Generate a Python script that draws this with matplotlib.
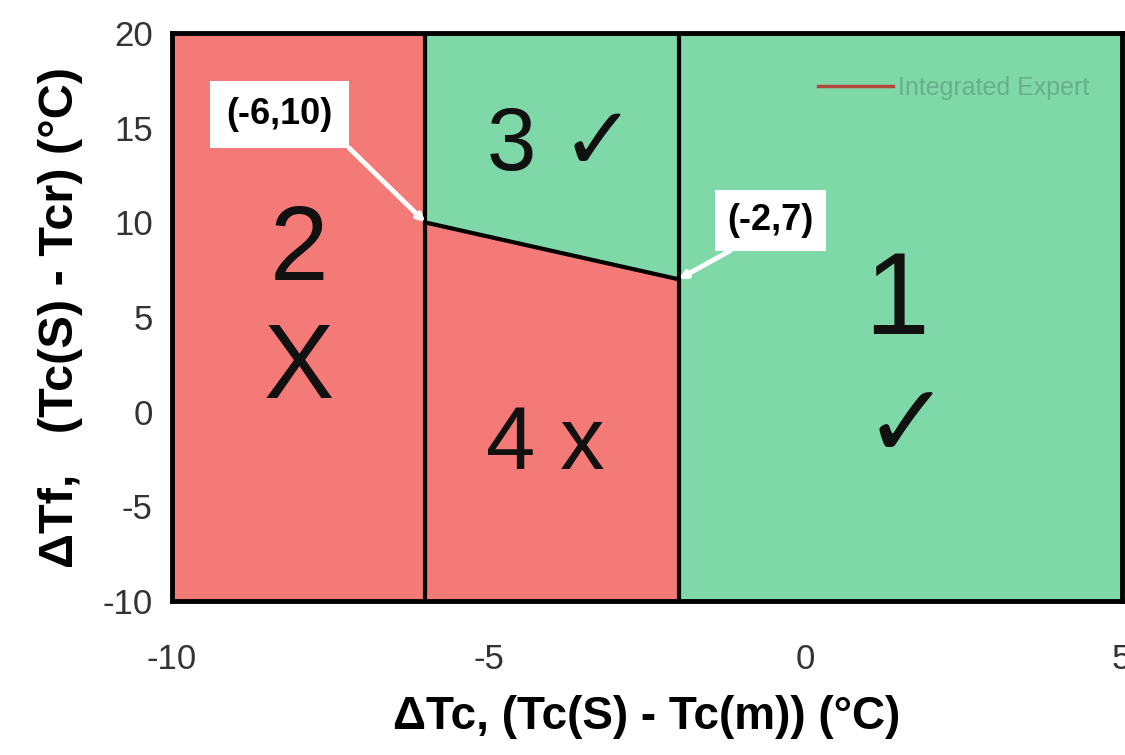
import numpy as np
import matplotlib.pyplot as plt
import matplotlib

matplotlib.rcParams['font.family'] = ['Liberation Sans', 'DejaVu Sans']
matplotlib.rcParams['axes.unicode_minus'] = False

# boundary points
x_range = [-10, 5]
y_range = [-10, 20]
corner_left = (-6, 10)
corner_right = (-2, 7)
xticks = [-10, -5, 0, 5]
yticks = [-10, -5, 0, 5, 10, 15, 20]

red = '#f47a77'
green = '#7ed8a8'

fig = plt.figure(figsize=(11.25, 7.55), dpi=100)
ax = fig.add_axes([0.153, 0.204, 0.844, 0.752])

x0, x1 = x_range
y0, y1 = y_range
xl, yl = corner_left
xr, yr = corner_right

# regions
ax.fill([x0, xl, xl, x0], [y0, y0, y1, y1], color=red, zorder=1)
ax.fill([xl, xr, xr, xl], [yl, yr, y1, y1], color=green, zorder=1)
ax.fill([xl, xr, xr, xl], [y0, y0, yr, yl], color=red, zorder=1)
ax.fill([xr, x1, x1, xr], [y0, y0, y1, y1], color=green, zorder=1)

# boundaries
ax.plot([xl, xl], [y0, y1], color='k', lw=3, zorder=2)
ax.plot([xr, xr], [y0, y1], color='k', lw=3, zorder=2)
ax.plot([xl, xr], [yl, yr], color='k', lw=3, zorder=2)

ax.plot([], [], color='#b5473a', lw=2.5, label='Integrated Expert')
leg = ax.legend(loc='upper right', frameon=False, fontsize=18,
                bbox_to_anchor=(0.99, 0.965), handlelength=3.0,
                handletextpad=0.2)
for t in leg.get_texts():
    t.set_color('#68b08b')

# region labels
big = dict(ha='center', va='center', color='#111111')
ax.text(-8.0, 8.4, '2', fontsize=76, **big)
ax.text(-8.0, 2.2, 'X', fontsize=76, **big)
ax.text(-3.85, 14.0, '3 \u2713', fontsize=64, **big)
ax.text(-4.1, -1.8, '4 x', fontsize=64, **big)
ax.text(1.45, 5.7, '1', fontsize=84, **big)
ax.text(1.6, -1.0, '\u2713', fontsize=74, **big)

# corner annotations
ax.annotate('(-6,10)', xy=corner_left, xytext=(-8.3, 15.7),
            ha='center', va='center', fontsize=26, fontweight='bold',
            bbox=dict(boxstyle='square,pad=0.45', fc='white', ec='none'),
            arrowprops=dict(arrowstyle='-|>', color='white', lw=3.5,
                            mutation_scale=10, shrinkA=0, shrinkB=0,
                            relpos=(1.0, 0.0)),
            zorder=5)
ax.annotate('(-2,7)', xy=corner_right, xytext=(-0.55, 10.1),
            ha='center', va='center', fontsize=26, fontweight='bold',
            bbox=dict(boxstyle='square,pad=0.35', fc='white', ec='none'),
            arrowprops=dict(arrowstyle='-|>', color='white', lw=3.5,
                            mutation_scale=10, shrinkA=0, shrinkB=0,
                            relpos=(0.3, 0.0)),
            zorder=5)

ax.set_xlim(x0, x1)
ax.set_ylim(y0, y1)
ax.set_xticks(xticks)
ax.set_yticks(yticks)
ax.tick_params(length=0, labelsize=25, labelcolor='#333333')
ax.tick_params(axis='x', pad=30)
ax.tick_params(axis='y', pad=14)
for s in ax.spines.values():
    s.set_linewidth(3.5)
    s.set_color('k')
    s.set_zorder(6)

ax.set_xlabel('\u0394Tc, (Tc(S) - Tc(m)) (\u00b0C)', fontsize=33,
              fontweight='bold', labelpad=14)
ax.set_ylabel('\u0394Tf,   (Tc(S) - Tcr) (\u00b0C)', fontsize=35,
              fontweight='bold', labelpad=14)

fig.savefig('out.png', dpi=100)
